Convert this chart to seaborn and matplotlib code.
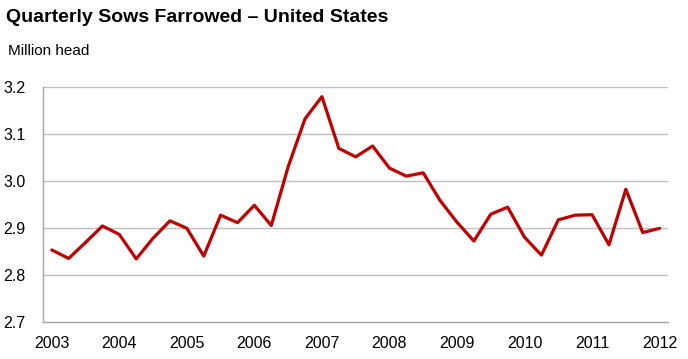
import numpy as np
import pandas as pd
import matplotlib.pyplot as plt
import seaborn as sns

# quarterly values, 2003 Q1 .. 2012 Q1 (million head)
anos = ['2003', '2004', '2005', '2006', '2007', '2008', '2009', '2010', '2011', '2012']
porcas = [2.854, 2.836, 2.870, 2.905, 2.887, 2.835, 2.879, 2.916,
          2.900, 2.841, 2.928, 2.912, 2.949, 2.906, 3.031, 3.133,
          3.180, 3.070, 3.052, 3.075, 3.028, 3.011, 3.018, 2.959,
          2.913, 2.873, 2.930, 2.945, 2.881, 2.843, 2.918, 2.928,
          2.929, 2.865, 2.983, 2.891, 2.900]
y_ticks = [2.7, 2.8, 2.9, 3.0, 3.1, 3.2]

df = pd.DataFrame({'trimestre': np.arange(len(porcas)), 'valor': porcas})

sns.set_style('white')
plt.rcParams['font.family'] = ['Liberation Sans', 'DejaVu Sans']

fig = plt.figure(figsize=(6.88, 3.59), dpi=100)
ax = fig.add_axes([0.063, 0.102, 0.908, 0.655])

cinza = '#a6a6a6'
for v in y_ticks[1:]:
    ax.axhline(v, color='#bfbfbf', linewidth=1.0, zorder=0)

sns.lineplot(data=df, x='trimestre', y='valor', color='#c00000', linewidth=2.3, ax=ax)

ax.set_xlim(-0.5, 36.5)
ax.set_ylim(2.7, 3.2)
ax.set_yticks(y_ticks)
ax.set_yticklabels([f'{v:.1f}' for v in y_ticks], fontsize=11.5, color='black')
ax.set_xticks(np.arange(0, 37, 4))
ax.set_xticklabels(anos, fontsize=11.5, color='black')
ax.set_xticks(np.arange(0, 37), minor=True)
ax.tick_params(axis='x', which='both', direction='out', length=4, color=cinza, width=1, pad=6)
ax.tick_params(axis='y', direction='out', length=4, color=cinza, width=1, pad=9)
ax.set_xlabel('')
ax.set_ylabel('')

for lado in ['top', 'right']:
    ax.spines[lado].set_visible(False)
for lado in ['left', 'bottom']:
    ax.spines[lado].set_color(cinza)
    ax.spines[lado].set_linewidth(1)

fig.text(0.008, 0.950, 'Quarterly Sows Farrowed \u2013 United States', fontsize=14,
         fontweight='bold', va='center', ha='left', color='black')
fig.text(0.012, 0.858, 'Million head', fontsize=11, va='center', ha='left', color='black')

fig.savefig('out.png', dpi=100)
